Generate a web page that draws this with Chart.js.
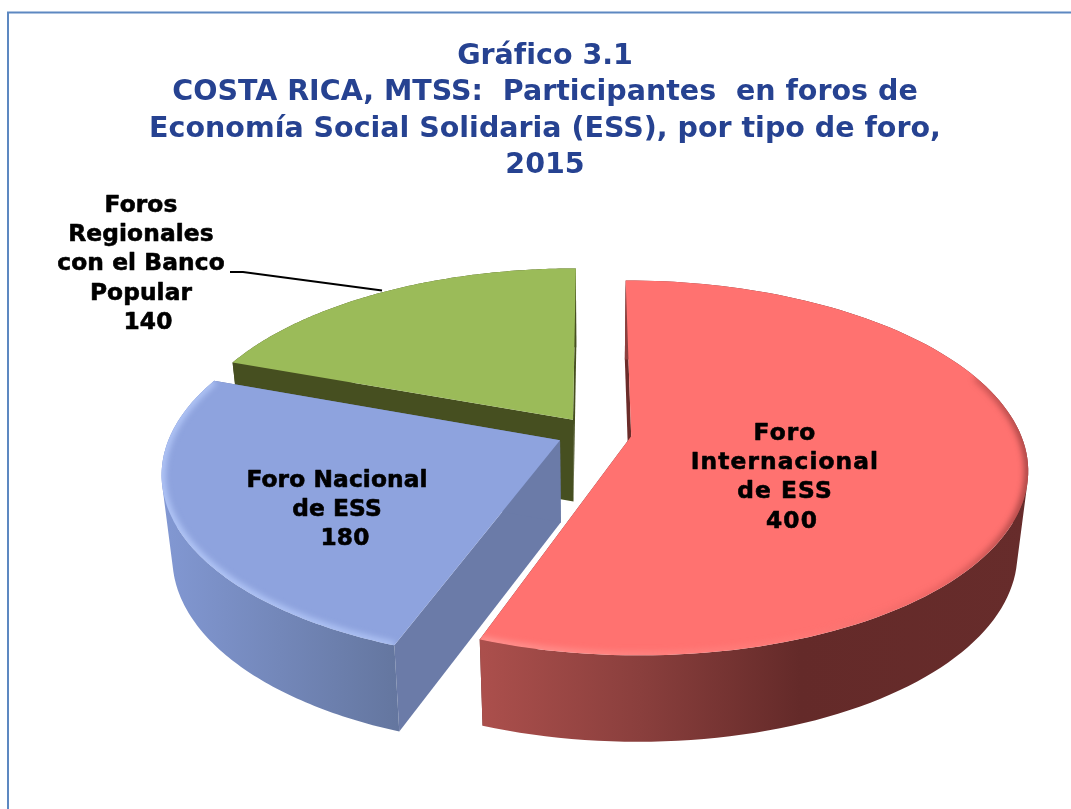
<!DOCTYPE html>
<html lang="es">
<head>
<meta charset="utf-8">
<title>Gráfico 3.1</title>
<script src="https://cdn.jsdelivr.net/npm/chart.js@4"></script>
<style>
html,body{margin:0;padding:0;background:#fff;overflow:hidden}
canvas{display:block}
</style>
</head>
<body>
<canvas id="c" width="1071" height="809"></canvas>
<script>
// ---- data ----
const titleLines = [
  'Gráfico 3.1',
  'COSTA RICA, MTSS:  Participantes  en foros de',
  'Economía Social Solidaria (ESS), por tipo de foro,',
  '2015'
];
const categories = ['Foro Internacional de ESS', 'Foro Nacional de ESS', 'Foros Regionales con el Banco Popular'];
const values = [400, 180, 140];
const categoryLines = [
  ['Foro', 'Internacional', 'de ESS'],
  ['Foro Nacional', 'de ESS'],
  ['Foros', 'Regionales', 'con el Banco', 'Popular']
];

// ---- styles ----
const topColors = ['#ff7270', '#8ea3de', '#9bbb59'];
const faceColors = ['#6b2c2a', '#6b7ba8', '#464f20'];
const sliceOffsets = [23, 21.5, 21];
const wallStops = [
  [[483, '#ab4f4c'], [640, '#8a3f3d'], [800, '#642a29'], [1028, '#672c2b']],
  [[162, '#8298d3'], [398, '#64769f']],
  [[230, '#464f20'], [580, '#464f20']]
];
const bevelStops = [
  [[483, 'rgba(255,190,185,.5)'], [800, 'rgba(255,150,145,.2)'], [930, 'rgba(190,70,70,.3)'], [1028, 'rgba(90,30,30,.6)']],
  [[162, 'rgba(190,210,255,.85)'], [398, 'rgba(190,210,255,.7)']],
  null
];
const bevelMinV = [-0.35, -0.7, 0];
const labelStyle = [
  { x: 785, y: 434, vx: 792, spacing: 1.1 },
  { x: 337, y: 481, vx: 345, spacing: 0.1 },
  { x: 141, y: 206, vx: 148, spacing: 0.1 }
];
const LINE = 29.2;
const VIEW = { rx: 389, ky: 181, persp: 0.169, shiftX: 48, cy: 433, depth: 82, botX: 0.975, botY: 1.02 };

function project(chartCx, U, V, bottom) {
  const s = 1 / (1 - VIEW.persp * V);
  const x = chartCx + VIEW.shiftX + U * VIEW.rx * s * (bottom ? VIEW.botX : 1);
  const y = VIEW.cy + V * VIEW.ky * s * (bottom ? VIEW.botY : 1) + (bottom ? VIEW.depth : 0);
  return [x, y];
}
function hGrad(ctx, stops) {
  const x0 = stops[0][0], x1 = stops[stops.length - 1][0];
  const g = ctx.createLinearGradient(x0, 0, x1, 0);
  stops.forEach(s => g.addColorStop((s[0] - x0) / (x1 - x0), s[1]));
  return g;
}

const pie3d = {
  id: 'pie3d',
  beforeDraw(chart) {
    const ctx = chart.ctx;
    ctx.save();
    ctx.strokeStyle = '#5d88c1';
    ctx.lineWidth = 2;
    ctx.beginPath();
    ctx.moveTo(8, 809); ctx.lineTo(8, 12.5); ctx.lineTo(1071, 12.5);
    ctx.stroke();
    ctx.restore();
  },
  beforeDatasetDraw(chart) {
    const ctx = chart.ctx;
    const arcs = chart.getDatasetMeta(0).data;
    // painter's order: back slice first
    [2, 1, 0].forEach(i => {
      const arc = arcs[i];
      const R = arc.outerRadius;
      const e = arc.options.offset / R;
      const a0 = arc.startAngle, a1 = arc.endAngle, mid = (a0 + a1) / 2;
      const ox = e * Math.cos(mid), oy = e * Math.sin(mid);
      const n = 120;
      const P = (a, bottom) => project(arc.x, ox + Math.cos(a), oy + Math.sin(a), bottom);
      const C = bottom => project(arc.x, ox, oy, bottom);
      const poly = pts => { ctx.beginPath(); pts.forEach((p, k) => k ? ctx.lineTo(p[0], p[1]) : ctx.moveTo(p[0], p[1])); ctx.closePath(); };
      // radial faces
      ctx.fillStyle = faceColors[i];
      poly([C(false), P(a0, false), P(a0, true), C(true)]); ctx.fill();
      poly([C(false), P(a1, false), P(a1, true), C(true)]); ctx.fill();
      // outer wall: a union of consistently wound quads, so the tangent silhouette is filled
      const topArc = [], botArc = [];
      for (let k = 0; k <= n; k++) {
        const a = a0 + (a1 - a0) * k / n;
        topArc.push(P(a, false)); botArc.push(P(a, true));
      }
      ctx.beginPath();
      for (let k = 0; k < n; k++) {
        let q = [topArc[k], topArc[k + 1], botArc[k + 1], botArc[k]];
        let area = 0;
        q.forEach((p, j) => { const r = q[(j + 1) % 4]; area += p[0] * r[1] - r[0] * p[1]; });
        if (area < 0) q = q.reverse();
        q.forEach((p, j) => j ? ctx.lineTo(p[0], p[1]) : ctx.moveTo(p[0], p[1]));
        ctx.closePath();
      }
      ctx.fillStyle = hGrad(ctx, wallStops[i]); ctx.fill('nonzero');
      // top surface
      poly([C(false)].concat(topArc));
      ctx.fillStyle = arc.options.backgroundColor; ctx.fill();
      // soft bevel along the rim
      if (bevelStops[i]) {
        ctx.save();
        poly([C(false)].concat(topArc)); ctx.clip();
        ctx.filter = 'blur(3px)';
        ctx.lineWidth = 7;
        ctx.strokeStyle = hGrad(ctx, bevelStops[i]);
        ctx.beginPath();
        let pen = false;
        for (let k = 0; k <= n; k++) {
          const a = a0 + (a1 - a0) * k / n;
          if (Math.sin(a) < bevelMinV[i]) { pen = false; continue; }
          const p = topArc[k];
          if (pen) ctx.lineTo(p[0], p[1]); else ctx.moveTo(p[0], p[1]);
          pen = true;
        }
        ctx.stroke();
        ctx.restore();
      }
    });
    return false;
  },
  afterDatasetsDraw(chart) {
    const ctx = chart.ctx;
    ctx.save();
    // leader line
    ctx.strokeStyle = '#000';
    ctx.lineWidth = 2;
    ctx.beginPath();
    ctx.moveTo(230, 272); ctx.lineTo(243, 272); ctx.lineTo(382, 290.5);
    ctx.stroke();
    // labels
    ctx.fillStyle = '#000';
    ctx.strokeStyle = '#000';
    ctx.lineWidth = 0.6;
    ctx.lineJoin = 'round';
    ctx.font = 'bold 23.3px "DejaVu Sans"';
    ctx.textAlign = 'center';
    ctx.textBaseline = 'middle';
    const put = (t, x, y) => { ctx.fillText(t, x, y); ctx.strokeText(t, x, y); };
    categoryLines.forEach((lines, i) => {
      const st = labelStyle[i];
      ctx.letterSpacing = st.spacing + 'px';
      lines.forEach((t, k) => put(t, st.x, st.y + k * LINE));
      put(String(values[i]), st.vx, st.y + lines.length * LINE);
    });
    ctx.restore();
  }
};

new Chart(document.getElementById('c'), {
  type: 'pie',
  data: {
    labels: categories,
    datasets: [{
      data: values,
      backgroundColor: topColors,
      borderWidth: 0,
      offset: sliceOffsets
    }]
  },
  options: {
    responsive: false,
    animation: false,
    rotation: 0,
    layout: { padding: { left: 19, right: 0, top: 39, bottom: 130 } },
    plugins: {
      legend: { display: false },
      tooltip: { enabled: false },
      title: {
        display: true,
        text: titleLines,
        color: '#264291',
        font: { family: '"DejaVu Sans"', size: 28.5, weight: 'bold', lineHeight: 1.265 },
        padding: { top: 0, bottom: 10 }
      }
    }
  },
  plugins: [pie3d]
});
</script>
</body>
</html>
